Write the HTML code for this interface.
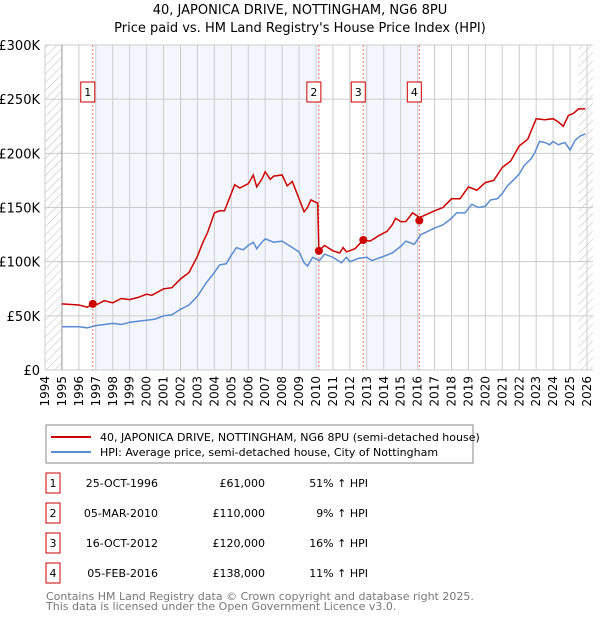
<!DOCTYPE html>
<html><head><meta charset="utf-8"><style>
body{margin:0;background:#fff;font-family:"Liberation Sans","DejaVu Sans",sans-serif;}
svg text{font-family:"DejaVu Sans","Liberation Sans",sans-serif;}
</style></head><body>
<svg id="c" width="600" height="620" xmlns="http://www.w3.org/2000/svg">
<defs><pattern id="h" width="6" height="6" patternUnits="userSpaceOnUse" patternTransform="rotate(45)"><line x1="0" y1="0" x2="0" y2="6" stroke="#bbb" stroke-width="1"/></pattern></defs>
<text x="300" y="14" font-size="13" text-anchor="middle">40, JAPONICA DRIVE, NOTTINGHAM, NG6 8PU</text>
<text x="300" y="32" font-size="13" text-anchor="middle">Price paid vs. HM Land Registry's House Price Index (HPI)</text>
<g id="plot"></g>
<rect x="46" y="425" width="427" height="38" fill="#fff" stroke="#888"/>
<line x1="51" y1="437" x2="91" y2="437" stroke="#cc0000" stroke-width="2"/>
<text x="100" y="441" font-size="11">40, JAPONICA DRIVE, NOTTINGHAM, NG6 8PU (semi-detached house)</text>
<line x1="51" y1="452" x2="91" y2="452" stroke="#5b8bd0" stroke-width="2"/>
<text x="100" y="456" font-size="11">HPI: Average price, semi-detached house, City of Nottingham</text>
<g id="tbl"></g>
<text x="46" y="600" font-size="11" fill="#777">Contains HM Land Registry data © Crown copyright and database right 2025.</text>
<text x="46" y="610" font-size="11" fill="#777">This data is licensed under the Open Government Licence v3.0.</text>
</svg>
<script>
const yearTicks=[1994,1995,1996,1997,1998,1999,2000,2001,2002,2003,2004,2005,2006,2007,2008,2009,2010,2011,2012,2013,2014,2015,2016,2017,2018,2019,2020,2021,2022,2023,2024,2025,2026];
const valueTicks=[0,50000,100000,150000,200000,250000,300000];
const valueTickLabels=["£0","£50K","£100K","£150K","£200K","£250K","£300K"];
const hpiYears=[1995,1996,1996.5,1997,1998,1998.5,1999,2000,2000.5,2001,2001.5,2002,2002.5,2003,2003.5,2004,2004.3,2004.7,2005,2005.3,2005.7,2006,2006.3,2006.5,2006.8,2007,2007.5,2008,2008.5,2009,2009.3,2009.5,2009.8,2010.2,2010.5,2011,2011.5,2011.8,2012,2012.5,2013,2013.3,2014,2014.5,2015,2015.3,2015.8,2016.2,2017,2017.5,2018,2018.3,2018.8,2019.2,2019.6,2020,2020.3,2020.7,2021,2021.3,2021.7,2022,2022.3,2022.7,2022.9,2023.2,2023.5,2023.8,2024,2024.3,2024.7,2025,2025.3,2025.6,2025.9];
const hpiValues=[40,40,39,41,43,42,44,46,47,50,51,56,60,68,80,90,97,98,106,113,111,115,118,112,118,121,118,119,114,109,99,96,104,101,107,104,99,104,100,103,104,101,105,108,114,119,116,125,131,134,140,145,145,153,150,151,157,158,163,170,176,181,189,195,200,211,210,208,211,208,210,203,212,216,218];
const priceYears=[1995,1996,1996.5,1996.82,1997,1997.5,1998,1998.5,1999,1999.5,2000,2000.3,2001,2001.5,2002,2002.5,2003,2003.3,2003.6,2004,2004.3,2004.6,2005,2005.2,2005.5,2006,2006.3,2006.5,2006.8,2007,2007.3,2007.5,2008,2008.3,2008.6,2009,2009.3,2009.5,2009.7,2010.1,2010.17,2010.5,2011,2011.4,2011.6,2011.8,2012.3,2012.79,2013.2,2013.7,2014.2,2014.5,2014.7,2015,2015.3,2015.7,2016.1,2016.3,2017,2017.5,2018,2018.5,2019,2019.5,2020,2020.5,2021,2021.5,2022,2022.5,2023,2023.5,2024,2024.3,2024.6,2024.9,2025.2,2025.5,2025.9];
const priceValues=[61,60,58,61,60,64,62,66,65,67,70,69,75,76,84,90,105,117,127,145,147,147,163,171,168,172,180,169,176,183,176,179,180,170,174,158,146,150,157,154,110,115,110,108,113,109,112,120,119,124,128,134,140,137,137,145,141,142,147,150,158,158,169,166,173,175,187,193,207,213,232,231,232,229,225,235,237,241,241];
const saleLabels=["1","2","3","4"];
const saleYears=[1996.82,2010.17,2012.79,2016.1];
const saleValues=[61000,110000,120000,138000];
const saleDates=["25-OCT-1996","05-MAR-2010","16-OCT-2012","05-FEB-2016"];
const salePrices=["£61,000","£110,000","£120,000","£138,000"];
const saleHpi=["51% ↑ HPI","9% ↑ HPI","16% ↑ HPI","11% ↑ HPI"];
const NS="http://www.w3.org/2000/svg";
const L=45,R=593,T=45,B=370;
const x=y=>L+(y-1994)*(587-45)/32;
const yv=v=>B-(v/300000)*(B-T);
const g=document.getElementById('plot');
function mk(tag,at,par){const e=document.createElementNS(NS,tag);for(const k in at)e.setAttribute(k,at[k]);(par||g).appendChild(e);return e;}
let e;
e=mk('rect',{x:L,y:T,width:R-L,height:B-T,fill:'#fff'});


e=mk('rect',{x:L,y:T,width:x(1995)-L,height:B-T,fill:'url(#h)'});


e=mk('rect',{x:x(2025.5),y:T,width:R-x(2025.5),height:B-T,fill:'url(#h)'});


[[0,1],[2,3]].forEach((p,i)=>{
 e=mk('rect',{x:x(saleYears[p[0]])+2,y:T,width:x(saleYears[p[1]])-x(saleYears[p[0]])-2,height:B-T,fill:'#eef3fc',opacity:0.7});
 
 
});
yearTicks.forEach(yr=>{
 e=mk('line',{x1:x(yr),x2:x(yr),y1:T,y2:B,stroke:'#ccc','stroke-width':1});
 
 
 const tx=x(yr)+4,ty=B+6;
 e=mk('text',{x:tx,y:ty,'font-size':12,transform:`rotate(-90 ${tx} ${ty})`,'text-anchor':'end'});
 e.textContent=yr;
 
 
});
valueTicks.forEach((v,i)=>{
 e=mk('line',{x1:L,x2:R,y1:yv(v),y2:yv(v),stroke:'#ccc','stroke-width':1});
 
 
 e=mk('text',{x:40,y:yv(v)+5,'font-size':13,'text-anchor':'end'});
 e.textContent=valueTickLabels[i];
 
 
});
e=mk('line',{x1:x(1995),x2:x(1995),y1:T,y2:B,stroke:'#999'});


saleYears.forEach((s,i)=>{
 e=mk('line',{x1:x(s),x2:x(s),y1:T,y2:B,stroke:'#f07070','stroke-dasharray':'2,2','stroke-width':1});
 
 
});
const pts=(ys,vs)=>ys.map((a,i)=>x(a).toFixed(1)+','+yv(vs[i]*1000).toFixed(1)).join(' ');
e=mk('polyline',{points:pts(hpiYears,hpiValues),fill:'none',stroke:'#5b8bd0','stroke-width':1.5});


e=mk('polyline',{points:pts(priceYears,priceValues),fill:'none',stroke:'#cc0000','stroke-width':1.5});


saleYears.forEach((s,i)=>{
 e=mk('circle',{cx:x(s),cy:yv(saleValues[i]),r:4,fill:'#cc0000'});
 
 
 const bx=x(s)-12;
 e=mk('rect',{x:bx,y:82,width:14,height:20,fill:'#fff',stroke:'#cc0000'});
 
 
 e=mk('text',{x:bx+7,y:96,'font-size':11,'text-anchor':'middle'});
 e.textContent=saleLabels[i];
 
 
});
const t=document.getElementById('tbl');
saleLabels.forEach((lb,i)=>{
 const cy=483+i*30;
 e=mk('rect',{x:46,y:cy-10,width:14,height:20,fill:'#fff',stroke:'#cc0000'},t);
 
 
 e=mk('text',{x:53,y:cy+4,'font-size':11,'text-anchor':'middle'},t);e.textContent=lb;
 
 
 e=mk('text',{x:158,y:cy+4,'font-size':11,'text-anchor':'end'},t);e.textContent=saleDates[i];
 
 
 e=mk('text',{x:265,y:cy+4,'font-size':11,'text-anchor':'end'},t);e.textContent=salePrices[i];
 
 
 e=mk('text',{x:368,y:cy+4,'font-size':11,'text-anchor':'end'},t);e.textContent=saleHpi[i];
 
 
});
</script>
</body></html>
